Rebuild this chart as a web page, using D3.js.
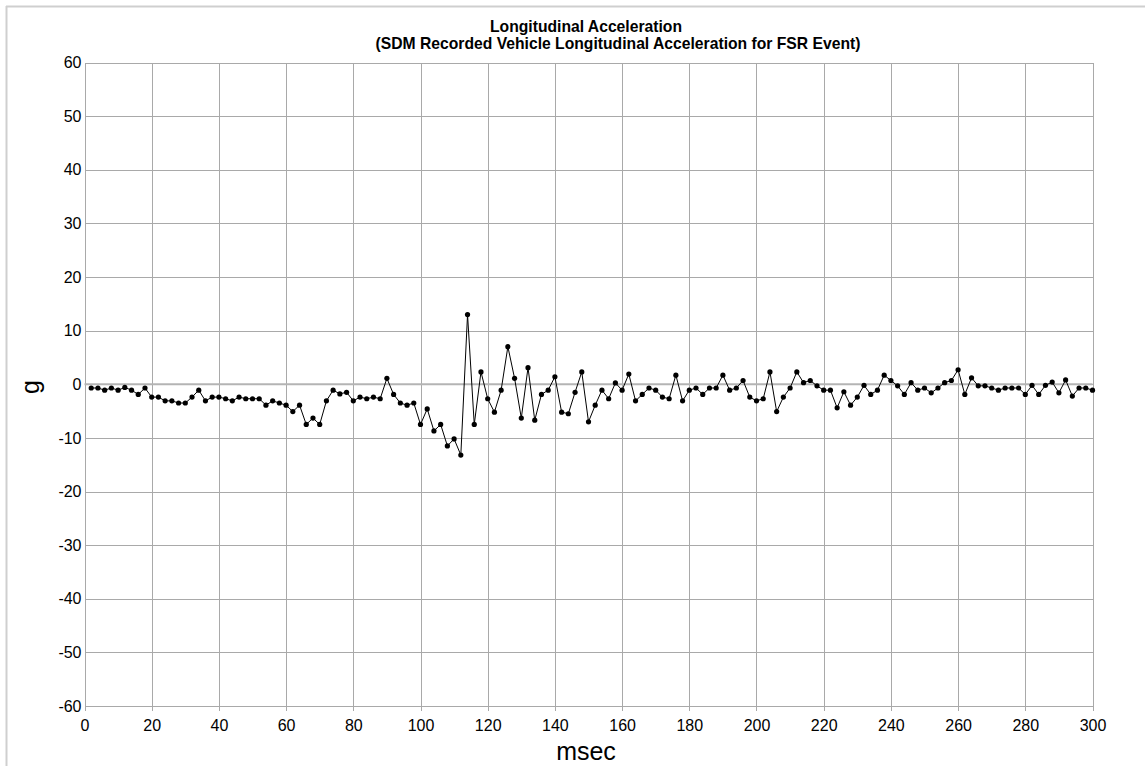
<!DOCTYPE html>
<html>
<head>
  <meta charset="utf-8" />
  <title>Longitudinal Acceleration</title>
  <style>
    body { margin:0; background:#fff; }
    text { font-family:"Liberation Sans", Arial, sans-serif; fill:#000; }
    .grid line { stroke:#a9a9a9; stroke-width:1; shape-rendering:crispEdges; }
    .title { font-size:15.7px; font-weight:bold; }
    .tick text { font-size:16px; }
  </style>
</head>
<body>
  <div id="container"></div>
  <script src="https://d3js.org/d3.v7.min.js"></script>
  <script>

// time axis (msec) and recorded acceleration (g), one sample every 2 msec
var msec = [];
for (var t = 2; t <= 300; t += 2) msec.push(t);

var accel = [
  -0.7, -0.7, -1.1, -0.7, -1.1, -0.6, -1.1, -1.9, -0.7, -2.4,
  -2.4, -3.1, -3.1, -3.5, -3.5, -2.4, -1.1, -3.1, -2.4, -2.4,
  -2.7, -3.1, -2.4, -2.7, -2.7, -2.7, -3.9, -3.1, -3.5, -3.9,
  -5.1, -3.9, -7.5, -6.3, -7.5, -3.1, -1.1, -1.8, -1.5, -3.1,
  -2.4, -2.7, -2.4, -2.7, 1.1, -1.9, -3.5, -3.9, -3.5, -7.5,
  -4.6, -8.7, -7.5, -11.5, -10.2, -13.2, 13.0, -7.5, 2.3, -2.7,
  -5.2, -1.1, 7.0, 1.1, -6.3, 3.1, -6.7, -1.9, -1.1, 1.4,
  -5.2, -5.5, -1.5, 2.3, -7.0, -3.9, -1.1, -2.7, 0.25, -1.1,
  1.9, -3.1, -1.9, -0.7, -1.1, -2.4, -2.7, 1.7, -3.1, -1.1,
  -0.7, -1.9, -0.7, -0.7, 1.7, -1.1, -0.7, 0.7, -2.4, -3.1,
  -2.7, 2.3, -5.1, -2.4, -0.7, 2.3, 0.3, 0.7, -0.3, -1.1,
  -1.1, -4.4, -1.4, -3.9, -2.4, -0.2, -1.9, -1.1, 1.7, 0.7,
  -0.3, -1.9, 0.3, -1.1, -0.7, -1.6, -0.7, 0.3, 0.7, 2.7,
  -1.9, 1.2, -0.3, -0.3, -0.7, -1.1, -0.7, -0.7, -0.7, -1.9,
  -0.2, -1.9, -0.2, 0.4, -1.6, 0.8, -2.2, -0.7, -0.7, -1.1
];

var xTicks = d3.range(0, 301, 20);
var yTicks = d3.range(-60, 61, 10);

var titleLine1 = "Longitudinal Acceleration";
var titleLine2 = "(SDM Recorded Vehicle Longitudinal Acceleration for FSR Event)";

var w = 1145, h = 766;
var margin = {top: 62.5, right: 52.5, bottom: 60, left: 84.5};

var svg = d3.select("#container").append("svg")
  .attr("width", w)
  .attr("height", h);

// outer frame (top and left edges visible)
svg.append("line").attr("x1", 6).attr("x2", w).attr("y1", 6.5).attr("y2", 6.5)
  .attr("stroke", "#cfcfcf").attr("stroke-width", 2);
svg.append("line").attr("x1", 6.5).attr("x2", 6.5).attr("y1", 6).attr("y2", h)
  .attr("stroke", "#cfcfcf").attr("stroke-width", 2);

var x = d3.scaleLinear().domain([0, 300]).range([margin.left, w - margin.right]);
var y = d3.scaleLinear().domain([-60, 60]).range([706, margin.top]);

// vertical grid
svg.append("g").attr("class", "grid")
  .selectAll("line").data(xTicks).enter().append("line")
  .attr("x1", function(d) { return Math.round(x(d)) + 0.5; })
  .attr("x2", function(d) { return Math.round(x(d)) + 0.5; })
  .attr("y1", y(60)).attr("y2", y(-60) + 5);

// horizontal grid
svg.append("g").attr("class", "grid")
  .selectAll("line").data(yTicks).enter().append("line")
  .attr("x1", x(0)).attr("x2", x(300))
  .attr("y1", function(d) { return Math.round(y(d)) + 0.5; })
  .attr("y2", function(d) { return Math.round(y(d)) + 0.5; });

// zero line a bit heavier
svg.append("line")
  .attr("x1", x(0)).attr("x2", x(300))
  .attr("y1", y(0)).attr("y2", y(0))
  .attr("stroke", "#b4b4b4").attr("stroke-width", 2);

// axes (labels only, lines come from grid)
var fmt = function(d) { return String(d); };

var xAxis = svg.append("g")
  .attr("transform", "translate(0," + y(-60) + ")")
  .call(d3.axisBottom(x).tickValues(xTicks).tickFormat(fmt).tickSize(0).tickPadding(14));
xAxis.select(".domain").remove();

var yAxis = svg.append("g")
  .attr("transform", "translate(" + x(0) + ",0)")
  .call(d3.axisLeft(y).tickValues(yTicks).tickFormat(fmt).tickSize(0).tickPadding(3));
yAxis.select(".domain").remove();

svg.selectAll(".tick text").attr("font-family", null).attr("font-size", null);

// title
svg.append("text").attr("class", "title")
  .attr("x", 586).attr("y", 32).attr("text-anchor", "middle")
  .text(titleLine1);
svg.append("text").attr("class", "title")
  .attr("x", 618).attr("y", 49).attr("text-anchor", "middle")
  .text(titleLine2);

// axis titles
svg.append("text")
  .attr("x", 586).attr("y", 760).attr("text-anchor", "middle")
  .style("font-size", "25px")
  .text("msec");
svg.append("text")
  .attr("transform", "translate(39,387) rotate(-90)")
  .attr("text-anchor", "middle")
  .style("font-size", "25px")
  .text("g");

// data line and markers
var pts = msec.map(function(d, i) { return [d, accel[i]]; });

svg.append("path")
  .datum(pts)
  .attr("fill", "none")
  .attr("stroke", "#000")
  .attr("stroke-width", 1)
  .attr("d", d3.line()
    .x(function(d) { return x(d[0]); })
    .y(function(d) { return y(d[1]); }));

svg.append("g").selectAll("circle").data(pts).enter().append("circle")
  .attr("cx", function(d) { return x(d[0]); })
  .attr("cy", function(d) { return y(d[1]); })
  .attr("r", 2.6)
  .attr("fill", "#000");
  </script>
</body>
</html>
